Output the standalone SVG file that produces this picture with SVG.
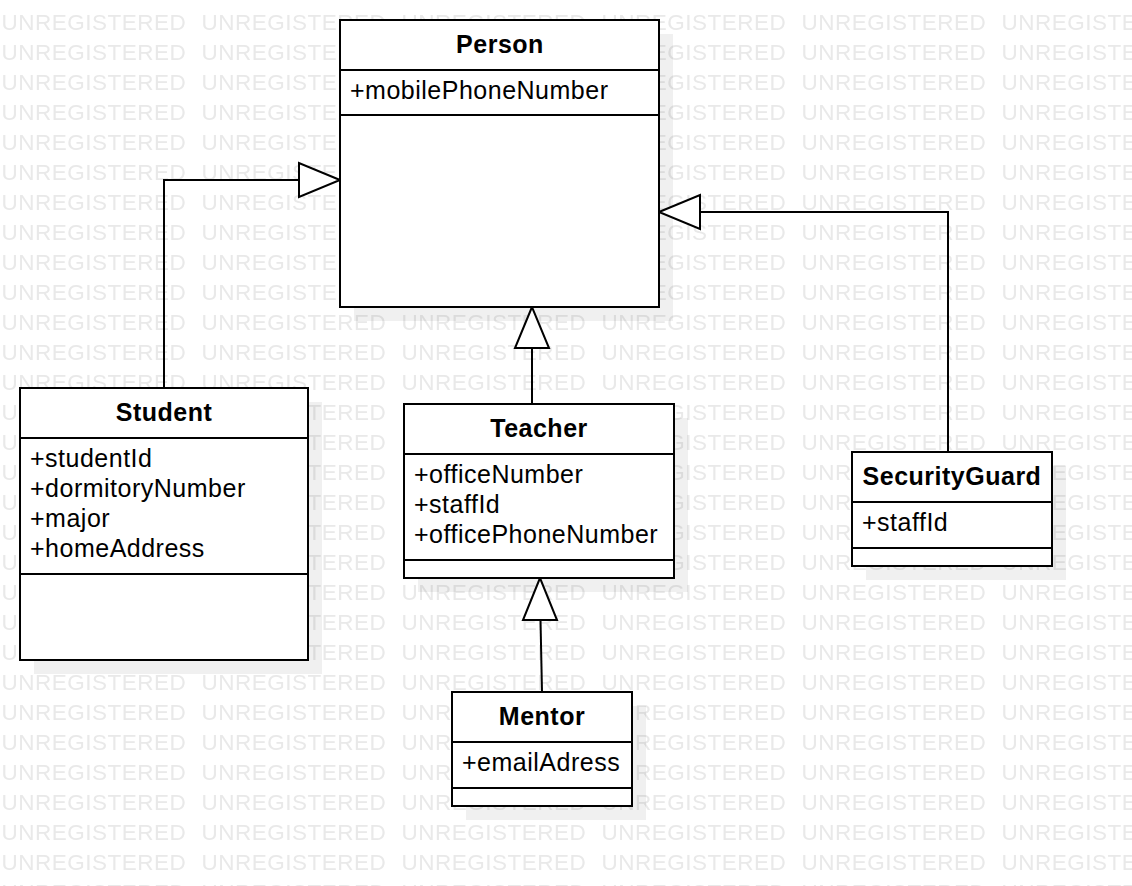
<svg xmlns="http://www.w3.org/2000/svg" width="1132" height="886" viewBox="0 0 1132 886">
  <defs>
    <pattern id="wm" patternUnits="userSpaceOnUse" x="0" y="6" width="200" height="30">
      <text x="1.5" y="24" class="wm">UNREGISTERED</text>
    </pattern>
    <style>
      .wm { font-family: "Liberation Sans", Arial, sans-serif; font-size: 22.5px; letter-spacing: 0.5px; fill: #e9e9e9; }
      .box { fill: #ffffff; stroke: #000000; stroke-width: 2; }
      .sep { stroke: #000000; stroke-width: 2; }
      .shadow { fill: #000000; fill-opacity: 0.06; }
      .t { font-family: "Liberation Sans", Arial, sans-serif; font-size: 25px; letter-spacing: 0.5px; fill: #000000; }
      .b { font-weight: bold; text-anchor: middle; }
      .edge { fill: none; stroke: #000000; stroke-width: 2; }
      .head { fill: #ffffff; stroke: #000000; stroke-width: 2; stroke-linejoin: miter; }
    </style>
  </defs>
  <rect x="0" y="0" width="1132" height="886" fill="#ffffff"/>
  <rect x="0" y="0" width="1132" height="886" fill="url(#wm)"/>

  <g id="shadows">
    <rect class="shadow" x="354" y="34" width="319" height="287"/>
    <rect class="shadow" x="34" y="402" width="288" height="272"/>
    <rect class="shadow" x="418" y="418" width="270" height="174"/>
    <rect class="shadow" x="866" y="466" width="200" height="114"/>
    <rect class="shadow" x="466" y="706" width="180" height="114"/>
  </g>

  <g id="connectors">
    <polyline class="edge" points="164,388 164,180 299,180"/>
    <polygon class="head" points="340,180 299,163 299,197"/>
    <line class="edge" x1="532" y1="404" x2="532" y2="348"/>
    <polygon class="head" points="532,307 515,348 549,348"/>
    <polyline class="edge" points="948,452 948,212 700,212"/>
    <polygon class="head" points="659,212 700,195 700,229"/>
    <line class="edge" x1="542" y1="692" x2="540.5" y2="620"/>
    <polygon class="head" points="540,578 523,620 557,620"/>
  </g>

  <g id="Person">
    <rect class="box" x="340" y="20" width="319" height="287"/>
    <line class="sep" x1="340" y1="70" x2="659" y2="70"/>
    <line class="sep" x1="340" y1="115" x2="659" y2="115"/>
    <text class="t b" x="500" y="53">Person</text>
    <text class="t" x="350" y="99">+mobilePhoneNumber</text>
  </g>

  <g id="Student">
    <rect class="box" x="20" y="388" width="288" height="272"/>
    <line class="sep" x1="20" y1="438" x2="308" y2="438"/>
    <line class="sep" x1="20" y1="574" x2="308" y2="574"/>
    <text class="t b" x="164" y="421">Student</text>
    <text class="t" x="30" y="467">+studentId</text>
    <text class="t" x="30" y="497">+dormitoryNumber</text>
    <text class="t" x="30" y="527">+major</text>
    <text class="t" x="30" y="557">+homeAddress</text>
  </g>

  <g id="Teacher">
    <rect class="box" x="404" y="404" width="270" height="174"/>
    <line class="sep" x1="404" y1="454" x2="674" y2="454"/>
    <line class="sep" x1="404" y1="560" x2="674" y2="560"/>
    <text class="t b" x="539" y="437">Teacher</text>
    <text class="t" x="414" y="483">+officeNumber</text>
    <text class="t" x="414" y="513">+staffId</text>
    <text class="t" x="414" y="543">+officePhoneNumber</text>
  </g>

  <g id="SecurityGuard">
    <rect class="box" x="852" y="452" width="200" height="114"/>
    <line class="sep" x1="852" y1="502" x2="1052" y2="502"/>
    <line class="sep" x1="852" y1="548" x2="1052" y2="548"/>
    <text class="t b" x="952" y="485">SecurityGuard</text>
    <text class="t" x="862" y="531">+staffId</text>
  </g>

  <g id="Mentor">
    <rect class="box" x="452" y="692" width="180" height="114"/>
    <line class="sep" x1="452" y1="742" x2="632" y2="742"/>
    <line class="sep" x1="452" y1="788" x2="632" y2="788"/>
    <text class="t b" x="542" y="725">Mentor</text>
    <text class="t" x="462" y="771">+emailAdress</text>
  </g>
</svg>
